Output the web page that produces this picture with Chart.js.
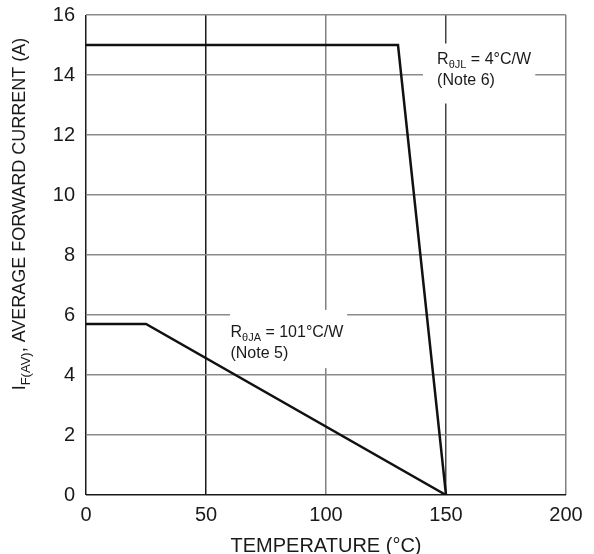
<!DOCTYPE html>
<html>
<head>
<meta charset="utf-8">
<script src="https://cdn.jsdelivr.net/npm/chart.js@4.4.1/dist/chart.umd.min.js"></script>
<style>
  html, body { margin: 0; padding: 0; background: #fff; }
  #wrap { width: 594px; height: 554px; position: relative; }
</style>
</head>
<body>
<div id="wrap"><canvas id="c" width="594" height="554"></canvas></div>
<script>
// ---- data ----
const leadTemps = [0, 130, 150];
const leadCurrent = [15, 15, 0];
const ambientTemps = [0, 25, 150];
const ambientCurrent = [5.7, 5.7, 0];
const xTicks = [0, 50, 100, 150, 200];
const yTicks = [0, 2, 4, 6, 8, 10, 12, 14, 16];

const leadLabel = { main: 'R', sub: 'θJL', rest: ' = 4°C/W', note: '(Note 6)' };
const ambientLabel = { main: 'R', sub: 'θJA', rest: ' = 101°C/W', note: '(Note 5)' };

const toPts = (xs, ys) => xs.map((x, i) => ({ x: x, y: ys[i] }));

const FONT = '"Liberation Sans", Arial, Helvetica, sans-serif';

// annotation placement (data coordinates)
const notes = [
  { lbl: leadLabel, tx: 146.3, ty: 14.36, box: [140.4, 187.2, 15.05, 13.05] },
  { lbl: ambientLabel, tx: 60.2, ty: 5.26, box: [60.0, 108.8, 6.17, 4.23] }
];

const notePlugin = {
  id: 'notes',
  afterDatasetsDraw(chart) {
    const ctx = chart.ctx, xs = chart.scales.x, ys = chart.scales.y;
    ctx.save();
    notes.forEach(n => {
      const x0 = xs.getPixelForValue(n.box[0]), x1 = xs.getPixelForValue(n.box[1]);
      const y0 = ys.getPixelForValue(n.box[2]), y1 = ys.getPixelForValue(n.box[3]);
      ctx.fillStyle = '#fff';
      ctx.fillRect(x0, y0, x1 - x0, y1 - y0);
      const tx = xs.getPixelForValue(n.tx), ty = ys.getPixelForValue(n.ty);
      ctx.fillStyle = '#1a1a1a';
      ctx.textBaseline = 'alphabetic';
      ctx.textAlign = 'left';
      ctx.font = '16px ' + FONT;
      ctx.fillText(n.lbl.main, tx, ty);
      let cx = tx + ctx.measureText(n.lbl.main).width;
      ctx.font = '11px ' + FONT;
      ctx.fillText(n.lbl.sub, cx, ty + 4);
      cx += ctx.measureText(n.lbl.sub).width;
      ctx.font = '16px ' + FONT;
      ctx.fillText(n.lbl.rest, cx, ty);
      ctx.fillText(n.lbl.note, tx, ty + 21);
    });
    ctx.restore();
  },
  afterDraw(chart) {
    // y-axis title with subscript
    const ctx = chart.ctx;
    const parts = [
      { t: 'I', f: '18px ' + FONT, dy: 0 },
      { t: 'F(AV)', f: '13px ' + FONT, dy: 5 },
      { t: ', AVERAGE FORWARD CURRENT (A)', f: '18px ' + FONT, dy: 0 }
    ];
    ctx.save();
    let total = 0;
    parts.forEach(p => { ctx.font = p.f; p.w = ctx.measureText(p.t).width; total += p.w; });
    const centerY = 214;
    ctx.translate(25, centerY + total / 2);
    ctx.rotate(-Math.PI / 2);
    ctx.fillStyle = '#1a1a1a';
    ctx.textBaseline = 'alphabetic';
    ctx.textAlign = 'left';
    let cx = 0;
    parts.forEach(p => { ctx.font = p.f; ctx.fillText(p.t, cx, p.dy); cx += p.w; });
    ctx.restore();
  }
};

const xGridColor = (ctx) => {
  const v = ctx.tick && ctx.tick.value;
  if (v === 0 || v === 50) return '#1a1a1a';
  if (v === 150) return '#444';
  return '#808080';
};
const yGridColor = (ctx) => {
  const v = ctx.tick && ctx.tick.value;
  if (v === 0) return '#1a1a1a';
  return '#8a8a8a';
};

new Chart(document.getElementById('c'), {
  type: 'line',
  data: {
    datasets: [
      { data: toPts(leadTemps, leadCurrent), borderColor: '#111', borderWidth: 2.5, pointRadius: 0, tension: 0, fill: false },
      { data: toPts(ambientTemps, ambientCurrent), borderColor: '#111', borderWidth: 2.5, pointRadius: 0, tension: 0, fill: false }
    ]
  },
  options: {
    responsive: false,
    animation: false,
    devicePixelRatio: 1,
    layout: { padding: { top: 15, right: 28, left: 0, bottom: 0 } },
    plugins: { legend: { display: false }, tooltip: { enabled: false } },
    scales: {
      x: {
        type: 'linear', min: 0, max: 200,
        afterBuildTicks: (s) => { s.ticks = xTicks.map(v => ({ value: v })); },
        afterFit: (s) => { s.height = 59; s.paddingLeft = 0; s.paddingRight = 0; },
        border: { display: false },
        grid: { color: xGridColor, lineWidth: 1.5, drawTicks: false },
        ticks: { color: '#1a1a1a', padding: 8, font: { family: FONT, size: 20 }, maxRotation: 0 },
        title: { display: true, text: 'TEMPERATURE (°C)', color: '#1a1a1a', font: { family: FONT, size: 20 }, padding: { top: 0, bottom: -4 } }
      },
      y: {
        type: 'linear', min: 0, max: 16,
        afterBuildTicks: (s) => { s.ticks = yTicks.map(v => ({ value: v })); },
        afterFit: (s) => { s.width = 86; s.paddingTop = 0; s.paddingBottom = 0; },
        border: { display: false },
        grid: { color: yGridColor, lineWidth: 1.5, drawTicks: false },
        ticks: { color: '#1a1a1a', padding: 11, font: { family: FONT, size: 20 } }
      }
    }
  },
  plugins: [notePlugin]
});
</script>
</body>
</html>
